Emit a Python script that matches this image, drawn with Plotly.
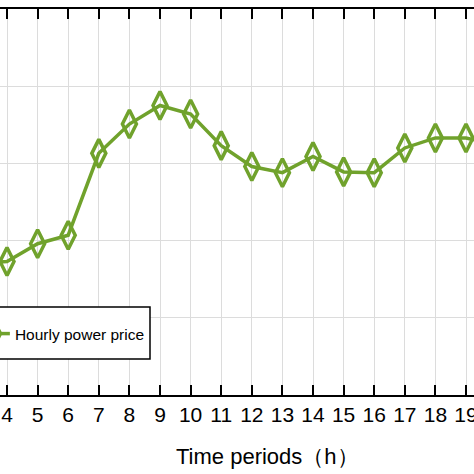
import plotly.graph_objects as go

# Hourly power price (y-axis labels are cut off)
hours = [3, 4, 5, 6, 7, 8, 9, 10, 11, 12, 13, 14, 15, 16, 17, 18, 19, 20]
price = [17.0, 17.3, 19.6, 20.7, 31.3, 35.1, 37.5, 36.4, 32.3, 29.6, 28.8,
         30.9, 28.9, 28.8, 32.0, 33.3, 33.3, 32.4]

green = '#70A22C'
font_main = 'Liberation Sans Narrow, Arial Narrow, Liberation Sans, Arial'
x_range = [3.771, 19.261]

fig = go.Figure()
fig.add_trace(go.Scatter(
    x=hours, y=price, mode='lines+markers', name='Hourly power price',
    line=dict(color=green, width=3.5),
    marker=dict(symbol='diamond-tall-open', size=20, color=green,
                line=dict(color=green, width=3.5)),
))

fig.update_layout(
    width=474, height=474,
    margin=dict(l=0, r=0, t=9, b=79, autoexpand=False),
    plot_bgcolor='white', paper_bgcolor='white',
    font=dict(family=font_main, color='black', size=21),
    showlegend=True,
    legend=dict(x=-0.053, y=0.158, xanchor='left', yanchor='middle',
                bgcolor='rgba(0,0,0,0)', borderwidth=0,
                font=dict(family=font_main, size=15.5, color='black')),
    # top frame with inward ticks
    xaxis2=dict(overlaying='x', side='top', range=x_range, tick0=0, dtick=1,
                showline=True, linecolor='black', linewidth=2,
                ticks='inside', ticklen=10, tickwidth=1.5, tickcolor='black',
                showticklabels=False, showgrid=False, zeroline=False),
)

fig.update_xaxes(
    range=x_range, tick0=0, dtick=1,
    showline=True, linecolor='black', linewidth=2,
    ticks='inside', ticklen=10, tickwidth=1.5, tickcolor='black',
    showgrid=True, gridcolor='#DCDCDC', gridwidth=1, zeroline=False,
    tickfont=dict(family=font_main, size=21), ticklabeloverflow='allow',
    selector=dict(anchor='y'), overwrite=False,
)
fig.update_layout(xaxis=dict(range=x_range, tick0=0, dtick=1, showline=True,
                             linecolor='black', linewidth=2, ticks='inside',
                             ticklen=10, tickwidth=1.5, tickcolor='black',
                             showgrid=True, gridcolor='#DCDCDC', gridwidth=1,
                             zeroline=False, ticklabeloverflow='allow',
                             tickfont=dict(family=font_main, size=21)))
fig.update_yaxes(
    range=[0, 50], dtick=10, showline=False, showticklabels=False,
    showgrid=True, gridcolor='#DCDCDC', gridwidth=1, zeroline=False,
)

# dummy trace so the top axis is drawn
fig.add_trace(go.Scatter(x=[None], y=[None], xaxis='x2', showlegend=False,
                         hoverinfo='skip'))

# legend frame
fig.add_shape(type='rect', xref='paper', yref='paper',
              x0=-0.1, x1=150 / 474, y0=(394 - 358) / 386, y1=(394 - 306) / 386,
              line=dict(color='black', width=1.5), fillcolor='white', layer='above')

# axis title centred on the full day
fig.add_annotation(text='Time periods（h）', xref='x', x=12.5, yref='paper',
                   y=(394 - 456) / 386, yanchor='middle', showarrow=False,
                   font=dict(family=font_main, size=22, color='black'))

# page body has a default margin, drop it so the figure sits at the corner
fig.write_html('out.html', config={'displayModeBar': False},
               post_script="document.body.style.margin='0';")
